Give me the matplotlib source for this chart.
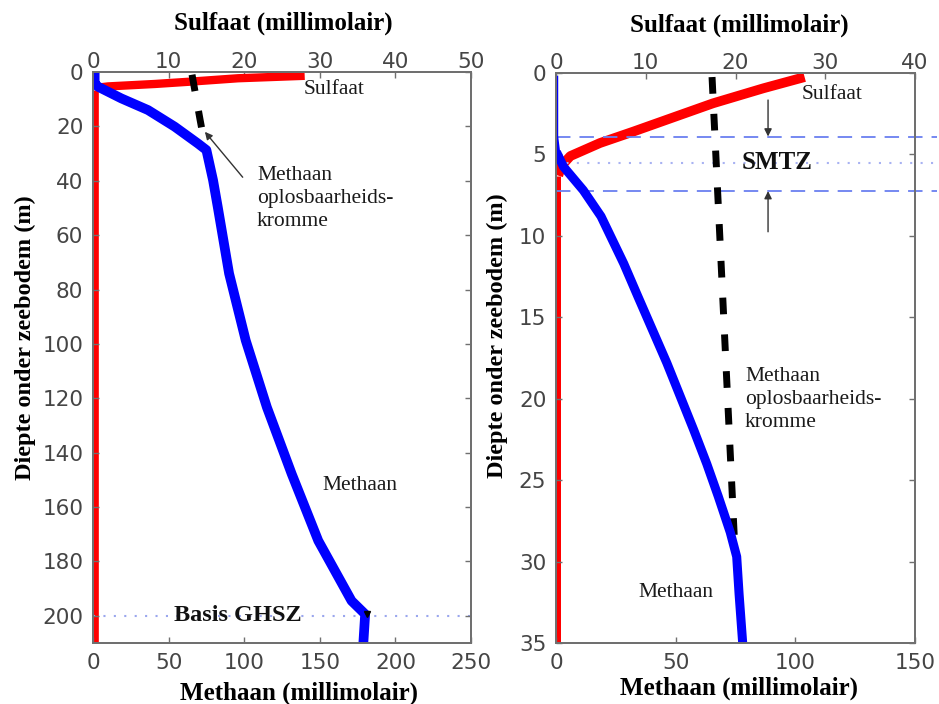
import matplotlib
matplotlib.use('Agg')
import matplotlib.pyplot as plt

# ---- left panel: deep profile (0-210 m) ----
depth_ch4_l = [0.5, 4.2, 5.4, 9.7, 14, 20.1, 26.3, 28.7, 39.8, 49.6, 74.1, 98.7,
               123.3, 147.8, 172.4, 194.5, 199.4, 210]
ch4_l = [1.1, 1.1, 3.3, 18.7, 36.4, 54, 69.4, 75, 79.4, 82.5, 90, 101,
         115, 131.4, 149, 171, 180, 178.8]
depth_so4_l = [1.4, 2.3, 3.6, 4.4, 5.3, 5.8, 6.5]
so4_l = [28, 19.2, 12.6, 8.2, 2, 0.5, 0.3]
depth_so4_l_deep = [6.5, 210]
so4_l_deep = [0.3, 0.3]
depth_sol_l = [1, 17.5, 28.5]
sol_l = [65.5, 70.8, 74.5]
ghsz_base = 200
ghsz_ch4 = 181

# ---- right panel: shallow profile (0-35 m) ----
depth_ch4_r_top = [0.3, 3.9, 5.1]
ch4_r_top = [0, 0, 1]
depth_ch4_r = [5.1, 5.75, 7.2, 8.8, 11.7, 13.75, 17.8, 21.9, 24, 26, 28.2, 29.7, 32, 35]
ch4_r = [1, 3.1, 11.4, 18.8, 28.3, 34.3, 46.3, 57.5, 63, 67.8, 72.8, 75.5, 76.5, 78]
depth_so4_r = [0.25, 0.94, 1.86, 2.7, 3.6, 4.3, 5.1, 5.7, 6.3]
so4_r = [27.7, 23.1, 17.5, 13.2, 8.6, 4.9, 1.6, 0.6, 0.25]
depth_so4_r_deep = [6.3, 35]
so4_r_deep = [0.25, 0.25]
depth_sol_r = [0.25, 9.6, 28.5]
sol_r = [65.2, 68.3, 74.5]
smtz_bounds = [3.9, 7.25]
smtz_mid = 5.5

SERIF = 'Liberation Serif'
plt.rcParams['font.family'] = 'DejaVu Sans'

W, H = 939, 704
fig = plt.figure(figsize=(W / 100, H / 100), dpi=100)
fig.patch.set_facecolor('white')


def box(x0, y0, x1, y1):
    return [x0 / W, 1 - y1 / H, (x1 - x0) / W, (y1 - y0) / H]


def setup(ax, xmax_ch4, xmax_so4, ymax, yticks, lab_top, lab_bot, lab_y):
    ax.set_xlim(0, xmax_ch4)
    ax.set_ylim(ymax, 0)
    ax.set_yticks(yticks)
    axt = ax.twiny()
    axt.set_xlim(0, xmax_so4)
    ax.set_zorder(axt.get_zorder() + 1)
    ax.patch.set_visible(False)
    for a in (ax, axt):
        for s in a.spines.values():
            s.set_color('#707070')
            s.set_linewidth(1.4)
        a.tick_params(direction='in', length=4, width=1, color='#707070',
                      labelcolor='#454545', labelsize=15.5)
    ax.tick_params(axis='y', right=True, pad=7)
    ax.tick_params(axis='x', pad=7)
    axt.tick_params(axis='x', pad=0)
    axt.set_xlabel('Sulfaat (millimolair)', family=SERIF, fontweight='bold', fontsize=18)
    axt.xaxis.set_label_coords(*lab_top)
    axt.xaxis.label.set_verticalalignment('center')
    ax.set_xlabel('Methaan (millimolair)', family=SERIF, fontweight='bold', fontsize=18)
    ax.xaxis.set_label_coords(*lab_bot)
    ax.xaxis.label.set_verticalalignment('center')
    ax.set_ylabel('Diepte onder zeebodem (m)', family=SERIF, fontweight='bold', fontsize=17.5)
    ax.yaxis.set_label_coords(*lab_y)
    ax.yaxis.label.set_verticalalignment('center')
    return axt


txt = dict(family=SERIF, fontsize=15.5, color='#1a1a1a')
arrow = dict(arrowstyle='-|>', color='#333333', lw=1, mutation_scale=11, shrinkA=0, shrinkB=0)

# left panel
ax1 = fig.add_axes(box(93, 72, 471, 643))
ax1t = setup(ax1, 250, 50, 210, range(0, 201, 20),
             (0.503, 1.086), (0.545, -0.088), (-0.18, 0.534))
ax1t.plot(so4_l, depth_so4_l, color='red', lw=6, solid_capstyle='butt')
ax1t.plot(so4_l_deep, depth_so4_l_deep, color='red', lw=4.8, solid_capstyle='butt')
ax1.plot(sol_l, depth_sol_l, color='black', lw=5, dashes=(2.4, 2.9))
ax1.plot(ch4_l, depth_ch4_l, color='#0000ff', lw=7, solid_joinstyle='round')
ax1.axhline(ghsz_base, color='#9aa6ee', lw=1.5, ls=(0, (1, 4)), zorder=1)
ax1.plot([ghsz_ch4], [ghsz_base - 0.5], marker='v', color='black', ms=5, ls='none')
ax1.text(139, 6.6, 'Sulfaat', ha='left', va='center', **txt)
ax1.text(108.5, 46.4, 'Methaan\noplosbaarheids-\nkromme', ha='left', va='center',
         linespacing=1.28, **txt)
ax1.text(151.5, 152, 'Methaan', ha='left', va='center', **txt)
ax1.text(96, 200, 'Basis GHSZ', ha='center', va='center', family=SERIF,
         fontweight='bold', fontsize=17.5, color='#111111')
ax1.annotate('', xy=(74, 22), xytext=(99, 38.7), arrowprops=arrow)

# right panel
ax2 = fig.add_axes(box(556, 73, 915, 643))
ax2t = setup(ax2, 150, 40, 35, range(0, 36, 5),
             (0.51, 1.084), (0.51, -0.079), (-0.164, 0.539))
ax2t.plot(so4_r, depth_so4_r, color='red', lw=7, solid_capstyle='butt')
ax2t.plot(so4_r_deep, depth_so4_r_deep, color='red', lw=3.6, solid_capstyle='butt')
for d in smtz_bounds:
    ax2.axhline(d, xmax=1.06, color='#6a7ff0', lw=1.3, ls=(0, (8, 5)), clip_on=False, zorder=1)
ax2.axhline(smtz_mid, xmax=1.06, color='#a8b2f2', lw=1.5, ls=(0, (1, 4)), clip_on=False, zorder=1)
ax2.plot(sol_r, depth_sol_r, color='black', lw=5, dashes=(2.4, 2.9))
ax2.plot(ch4_r_top, depth_ch4_r_top, color='#0000ff', lw=3.2)
ax2.plot(ch4_r, depth_ch4_r, color='#0000ff', lw=6.5, solid_joinstyle='round')
ax2.text(102.8, 1.35, 'Sulfaat', ha='left', va='center', **txt)
ax2.text(92.4, smtz_mid, 'SMTZ', ha='center', va='center', family=SERIF,
         fontweight='bold', fontsize=18, color='#111111')
ax2.text(79, 20.07, 'Methaan\noplosbaarheids-\nkromme', ha='left', va='center',
         linespacing=1.28, **txt)
ax2.text(34.3, 31.9, 'Methaan', ha='left', va='center', **txt)
ax2.annotate('', xy=(88.6, smtz_bounds[0]), xytext=(88.6, 1.66), arrowprops=arrow)
ax2.annotate('', xy=(88.6, smtz_bounds[1]), xytext=(88.6, 9.75), arrowprops=arrow)

fig.savefig('out.png', dpi=100)
